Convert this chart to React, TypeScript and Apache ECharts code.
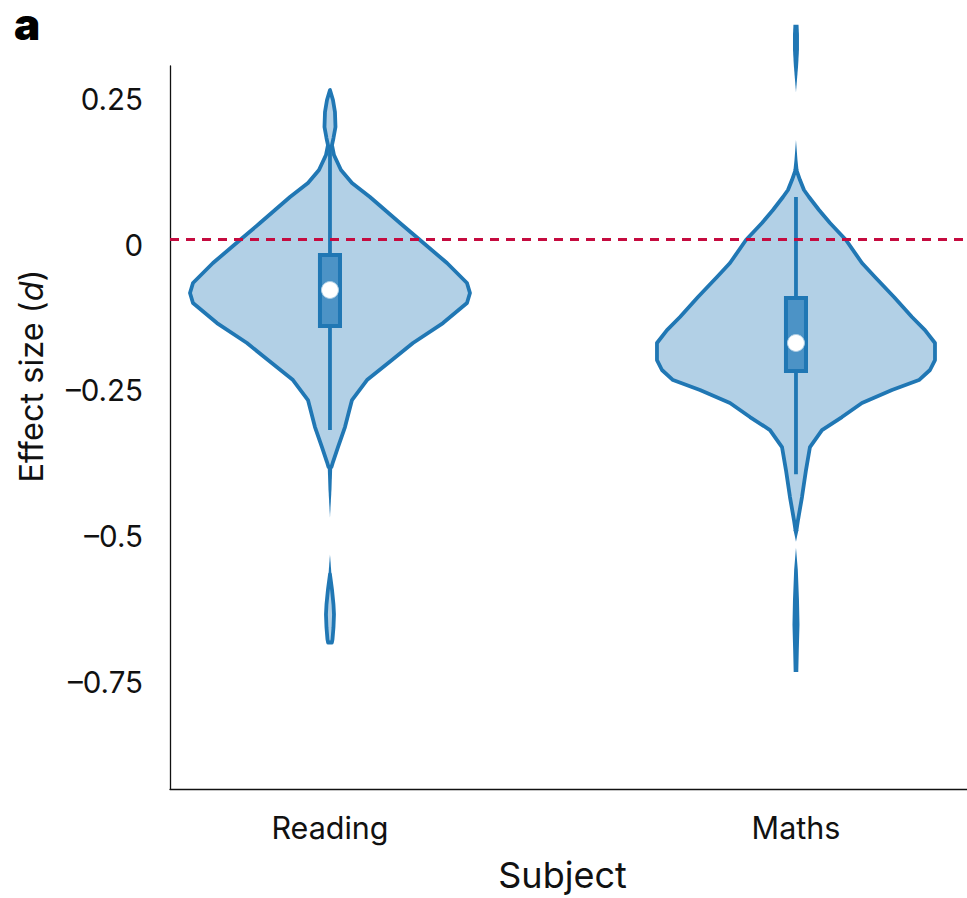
import React, { useEffect, useRef } from "react";
import * as echarts from "echarts";

// ---------- data ----------
const categories = ["Reading", "Maths"];
const categoryPositions = [0, 1];
const yTickValues = [-0.75, -0.5, -0.25, 0, 0.25];
const referenceLine = 0.009;

// violin outlines: [effect size, half-width in x-axis units]
const readingBody: [number, number][] = [
  [0.2656, 0], [0.2484, 0.0064], [0.2278, 0.0107], [0.202, 0.0118], [0.1831, 0.0075],
  [0.1711, 0.0043], [0.1539, 0.0086], [0.1282, 0.0236], [0.1059, 0.0472], [0.0818, 0.0858],
  [0.0595, 0.118], [0.0372, 0.1502], [0.0081, 0.1931], [-0.0314, 0.2511], [-0.0657, 0.294],
  [-0.0829, 0.3004], [-0.1, 0.294], [-0.1344, 0.2425], [-0.1687, 0.1781], [-0.1979, 0.133],
  [-0.2322, 0.0794], [-0.2666, 0.0472], [-0.3129, 0.0322], [-0.3472, 0.0172], [-0.3729, 0.0064],
  [-0.3815, 0.0032],
];
const readingTail: [number, number][] = [
  [-0.3815, 0.0048], [-0.42, 0.0032], [-0.4677, 0],
];
const readingLobeTaper: [number, number][] = [
  [-0.5315, 0], [-0.5658, 0.0032],
];
const readingLobe: [number, number][] = [
  [-0.5658, 0], [-0.5916, 0.0043], [-0.6174, 0.0075], [-0.6345, 0.0086], [-0.6568, 0.0075],
  [-0.6774, 0.0054], [-0.6826, 0.004],
];

const mathsTopLobe: [number, number][] = [
  [0.3775, 0.0054], [0.3604, 0.0064], [0.3346, 0.0064], [0.3089, 0.0047], [0.2826, 0.0021],
  [0.2621, 0],
];
const mathsNeck: [number, number][] = [
  [0.1795, 0], [0.1452, 0.0032], [0.1282, 0.0054],
];
const mathsBody: [number, number][] = [
  [0.1282, 0.0011], [0.111, 0.0086], [0.0939, 0.0172], [0.0819, 0.0279], [0.0596, 0.0494],
  [0.0373, 0.073], [0.0081, 0.1073], [-0.0314, 0.1416], [-0.0554, 0.1695], [-0.0897, 0.2103],
  [-0.124, 0.2489], [-0.1464, 0.2768], [-0.1687, 0.2983], [-0.1979, 0.2983], [-0.215, 0.2876],
  [-0.2322, 0.2639], [-0.2494, 0.206], [-0.2717, 0.1416], [-0.2957, 0.0987], [-0.318, 0.0558],
  [-0.3472, 0.03], [-0.3867, 0.0215], [-0.433, 0.0129], [-0.4725, 0.0043], [-0.4897, 0.0011],
];
const mathsTail: [number, number][] = [
  [-0.4897, 0.0054], [-0.5, 0.0025], [-0.5095, 0],
];
const mathsLowerLobe: [number, number][] = [
  [-0.5198, 0], [-0.5576, 0.0039], [-0.6091, 0.0064], [-0.652, 0.0075], [-0.6955, 0.006],
  [-0.7332, 0.0049],
];

// box statistics: [whisker low, q1, median, q3, whisker high]
const readingStats = [-0.318, -0.1395, -0.0777, -0.0177, 0.1711];
const mathsStats = [-0.394, -0.2166, -0.1686, -0.0913, 0.0819];

// ---------- styles ----------
const EDGE = "#2077b4";
const FILL = "#b2d0e6";
const BOX_FILL = "#4c93c6";
const FONT = "Inter, 'Noto Sans', sans-serif";

type Segment = { x: number; pts: [number, number][]; outline: boolean };
const segments: Segment[] = [
  { x: categoryPositions[0], pts: readingBody, outline: true },
  { x: categoryPositions[0], pts: readingTail, outline: false },
  { x: categoryPositions[0], pts: readingLobeTaper, outline: false },
  { x: categoryPositions[0], pts: readingLobe, outline: true },
  { x: categoryPositions[1], pts: mathsTopLobe, outline: false },
  { x: categoryPositions[1], pts: mathsNeck, outline: false },
  { x: categoryPositions[1], pts: mathsBody, outline: true },
  { x: categoryPositions[1], pts: mathsTail, outline: false },
  { x: categoryPositions[1], pts: mathsLowerLobe, outline: false },
];

const statsRows = [
  [categoryPositions[0], ...readingStats],
  [categoryPositions[1], ...mathsStats],
];

const fmtY = (v: number) => {
  if (v === 0) return "0";
  return v < 0 ? "\u2013" + String(Math.abs(v)) : String(v);
};

export default function App() {
  const ref = useRef<HTMLDivElement>(null);
  useEffect(() => {
    if (!ref.current) return;
    const chart = echarts.init(ref.current, undefined, { renderer: "svg" });
    const BOX_HALF = 0.0215;
    chart.setOption({
      animation: false,
      backgroundColor: "#ffffff",
      grid: { left: 170, right: 0, top: 66, bottom: 109 },
      xAxis: {
        type: "value",
        min: -0.3433,
        max: 1.367,
        splitLine: { show: false },
        axisTick: { show: false },
        axisLine: { show: true, onZero: false, lineStyle: { color: "#111", width: 1.3 } },
        axisLabel: {
          customValues: categoryPositions,
          formatter: (v: number) => categories[Math.round(v)] ?? "",
          color: "#111",
          fontFamily: FONT,
          fontSize: 30.5,
          margin: 23,
        },
        name: "Subject",
        nameLocation: "middle",
        nameGap: 68,
        nameTextStyle: { color: "#111", fontFamily: FONT, fontSize: 36, padding: [0, 12, 0, 0] },
      },
      yAxis: {
        type: "value",
        min: -0.934,
        max: 0.3067,
        splitLine: { show: false },
        axisTick: { show: false },
        axisLine: { show: true, onZero: false, lineStyle: { color: "#111", width: 1.3 } },
        axisLabel: {
          customValues: yTickValues,
          formatter: fmtY,
          color: "#111",
          fontFamily: FONT,
          fontSize: 29.5,
          margin: 27,
        },
      },
      graphic: [
        {
          type: "text",
          x: 14,
          y: 24,
          style: {
            text: "a",
            fontFamily: FONT,
            fontWeight: 900,
            fontSize: 44,
            lineHeight: 44,
            fill: "#000",
            align: "left",
            verticalAlign: "middle",
          },
        },
        {
          type: "text",
          x: 31,
          y: 376,
          rotation: Math.PI / 2,
          style: {
            text: "Effect size ({i|d})",
            fontFamily: FONT,
            fontSize: 32.5,
            fill: "#111",
            align: "center",
            verticalAlign: "middle",
            rich: { i: { fontStyle: "italic", fontFamily: FONT, fontSize: 32.5, fill: "#111" } },
          },
        },
      ],
      series: [
        {
          type: "line",
          z: 1,
          data: [],
          markLine: {
            silent: true,
            symbol: "none",
            label: { show: false },
            lineStyle: { color: "#c50b3f", width: 3, type: [9, 7] },
            data: [{ yAxis: referenceLine }],
          },
        },
        {
          type: "custom",
          z: 3,
          clip: false,
          data: segments.map((s, i) => [s.x, s.pts[0][0], i]),
          renderItem: (params: any, api: any) => {
            const seg = segments[params.dataIndex];
            const left = seg.pts.map(([y, w]) => api.coord([seg.x - w, y]));
            const right = seg.pts
              .slice()
              .reverse()
              .map(([y, w]) => api.coord([seg.x + w, y]));
            return {
              type: "polygon",
              shape: { points: left.concat(right) },
              style: seg.outline
                ? { fill: FILL, stroke: EDGE, lineWidth: 3.8, lineJoin: "round" }
                : { fill: EDGE },
            };
          },
        },
        {
          type: "custom",
          z: 4,
          clip: false,
          data: statsRows,
          renderItem: (params: any, api: any) => {
            const x = api.value(0);
            const lo = api.coord([x, api.value(1)]);
            const hi = api.coord([x, api.value(5)]);
            const q3 = api.coord([x - BOX_HALF, api.value(4)]);
            const q1 = api.coord([x + BOX_HALF, api.value(2)]);
            return {
              type: "group",
              children: [
                {
                  type: "line",
                  shape: { x1: lo[0], y1: lo[1], x2: hi[0], y2: hi[1] },
                  style: { stroke: EDGE, lineWidth: 3.8 },
                },
                {
                  type: "rect",
                  shape: { x: q3[0], y: q3[1], width: q1[0] - q3[0], height: q1[1] - q3[1] },
                  style: { fill: BOX_FILL, stroke: EDGE, lineWidth: 4 },
                },
              ],
            };
          },
        },
        {
          type: "scatter",
          z: 5,
          symbol: "circle",
          symbolSize: 17,
          data: statsRows.map((r) => [r[0], r[3]]),
          itemStyle: { color: "#ffffff", borderColor: "#a9cbe3", borderWidth: 1, opacity: 1 },
        },
      ],
    });
    return () => chart.dispose();
  }, []);
  return (
    <div
      ref={ref}
      style={{ position: "fixed", left: 0, top: 0, width: 967, height: 898, background: "#fff" }}
    />
  );
}
